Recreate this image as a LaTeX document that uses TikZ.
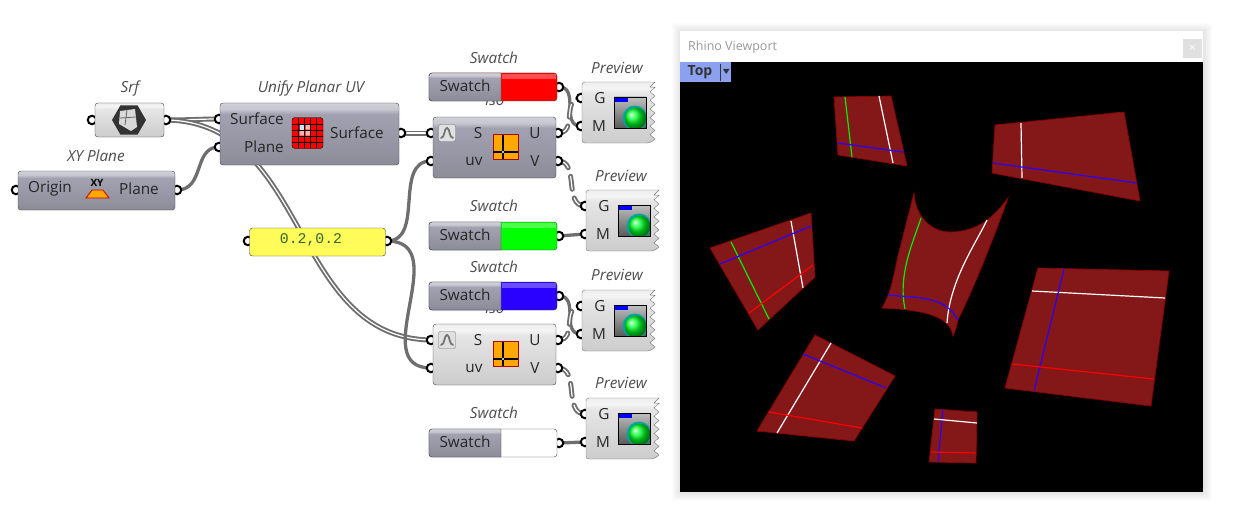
\documentclass[tikz,border=0pt]{standalone}
\usepackage{fontspec}
\setmainfont{Open Sans}
\newfontfamily\panelfont{Liberation Mono}
\usetikzlibrary{backgrounds,shapes.geometric}
\definecolor{ghline}{HTML}{3C3C3C}
\definecolor{ghwire}{HTML}{6E6E6E}
\definecolor{ghpanel}{HTML}{FFFB58}
\definecolor{ghorange}{HTML}{FFA800}
\definecolor{ghtab}{HTML}{8CA0F0}
\definecolor{srfred}{HTML}{841818}
\definecolor{srfedge}{HTML}{8E0000}
\definecolor{lineblue}{HTML}{2A00FF}
\definecolor{linegreen}{HTML}{00F000}
\pgfdeclareverticalshading{ghdark}{100bp}{rgb(0bp)=(.55,.55,.60); rgb(25bp)=(.55,.55,.60); rgb(60bp)=(.62,.62,.68); rgb(66bp)=(.63,.63,.69); rgb(70bp)=(.78,.78,.82); rgb(75bp)=(.82,.82,.85); rgb(100bp)=(.82,.82,.85)}
\pgfdeclareverticalshading{ghlight}{100bp}{rgb(0bp)=(.80,.80,.80); rgb(25bp)=(.80,.80,.80); rgb(66bp)=(.90,.90,.90); rgb(70bp)=(.96,.96,.96); rgb(75bp)=(.93,.93,.93); rgb(100bp)=(.93,.93,.93)}
\newcommand{\ghfont}{\fontsize{15.3}{15.3}\selectfont}

% Swatch : nom, y haut, couleur, y du port
\newcommand{\ghswatch}[3]{
  \node[port] (#1out) at (559,#2+14) {};
  \node[draw=ghline, fill=#3, rounded corners=3pt, minimum width=128pt, minimum height=28pt] (#1) at (493,#2+14) {};
  \fill[white, opacity=0.3] (502,#2+1) rectangle (556,#2+6);
  \draw[draw=ghline, shade, shading=ghdark] (501,#2) [rounded corners=3pt] -- (429,#2) -- (429,#2+28) [sharp corners] -- (501,#2+28) -- cycle;
  \node[intext] (#1txt) at (465,#2+13) {Swatch};
}
% Preview : nom, x gauche, y haut
\newcommand{\ghpreview}[3]{
  \begin{scope}[shift={(#2,#3)}]
    \node[port] (#1g) at (-1,16) {};
    \node[port] (#1m) at (-1,44) {};
    \draw[draw=ghline!70, shade, shading=ghlight, rounded corners=3pt] (69,0) -- (0,0) -- (0,61) -- (68,61) [sharp corners] -- (73,57)
      \foreach \k in {1,...,6} { -- ++(-5,-4.3) -- ++(5,-4.3) } -- (68,5) -- (73,0) -- cycle;
    \node[intext] (#1gt) at (18,16) {G};
    \node[intext] (#1mt) at (17,44) {M};
    \node[inner sep=0, minimum width=32pt, minimum height=31pt, draw=black, thick, shade, top color=black!25, bottom color=black!65] (#1icon) at (48,30.5) {};
    \begin{scope}
      \clip (32,15) rectangle (64,46);
      \fill[teal!70!cyan] (53,36) circle (12.5);
      \shade[ball color=green!85!cyan] (53.5,36.5) circle (11);
    \end{scope}
    \fill[blue] (32,15) rectangle (46,20);
    \draw[black, thick] (32,15) rectangle (64,46);
  \end{scope}
}
% Iso : nom, y haut, style
\newcommand{\ghiso}[3]{
  \node[port] (#1s) at (431,#2+16) {};
  \node[port] (#1uv) at (431,#2+44) {};
  \node[port] (#1u) at (558,#2+16) {};
  \node[port] (#1v) at (558,#2+44) {};
  \node[#3, minimum width=123pt, minimum height=61pt] (#1) at (494.5,#2+30.5) {};
  \node[draw=black!55, fill=black!12, rounded corners=2pt, minimum size=17pt, inner sep=0] (#1tog) at (447,#2+16) {};
  \draw[black!55, line width=1.8pt, line cap=round] (441,#2+21) .. controls (445,#2+21) and (444,#2+11) .. (447,#2+11) .. controls (450,#2+11) and (449,#2+21) .. (453,#2+21);
  \node[intext] (#1st) at (478,#2+16) {S};
  \node[intext] (#1uvt) at (474,#2+44) {uv};
  \node[intext] (#1ut) at (535,#2+16) {U};
  \node[intext] (#1vt) at (535,#2+44) {V};
  \node[draw=red!70!black, fill=ghorange, minimum size=25pt, inner sep=0] (#1icon) at (505.5,#2+30) {};
  \draw[black, line width=1.5pt] (503,#2+18) -- (503,#2+42) (493,#2+35) -- (518,#2+35);
  \fill[white] (503,#2+35) circle (1.2);
}

\begin{document}
\begin{tikzpicture}[x=1pt, y=-1pt]
  % On définit les styles
  \tikzstyle{port} = [circle, draw=black, fill=white, line width=2pt, minimum size=8.5pt, inner sep=0]
  \tikzstyle{intext} = [inner sep=0, text=black!85, font=\ghfont]
  \tikzstyle{caption} = [inner sep=0, text=black!70, font=\ghfont\itshape]
  \tikzstyle{darkbox} = [draw=ghline, shade, shading=ghdark, rounded corners=3pt, inner sep=0]
  \tikzstyle{lightbox} = [draw=ghline, shade, shading=ghlight, rounded corners=3pt, inner sep=0]
  \tikzstyle{wire} = [draw=ghwire, line width=3.3pt]
  \tikzstyle{listwire} = [draw=ghwire, line width=1.9pt, double=white, double distance=1.2pt]
  \tikzstyle{dashwire} = [listwire, line cap=round, dash pattern=on 13pt off 9pt]
  \tikzstyle{surface} = [draw=srfedge, fill=srfred, line width=0.7pt]
  \tikzstyle{isoline} = [line width=1.2pt]

  \useasboundingbox (0,0) rectangle (1235,511);

  % Srf
  \node[port] (srfin) at (92,120) {};
  \node[port] (srfout) at (166,120) {};
  \node[lightbox, minimum width=69pt, minimum height=34pt] (srf) at (129.5,120) {};
  \node[caption] (srfcap) at (130,88) {Srf};
  \node[fill=black!80, regular polygon, regular polygon sides=6, inner sep=0, minimum size=34pt] (srficon) at (129,120) {};
  \fill[white!85!black] (120,111) -- (135,109) -- (137,127) -- (131,131) -- (119,124) -- cycle;
  \draw[black!60, thick] (127,110) -- (125,125) (120,118) -- (136,117);

  % Unify Planar UV
  \node[port] (unifysrf) at (219,119) {};
  \node[port] (unifypln) at (219,147) {};
  \node[port] (unifyout) at (401,133) {};
  \node[darkbox, minimum width=179pt, minimum height=62pt] (unify) at (309.5,134) {};
  \node[caption] (unifycap) at (311,88) {Unify Planar UV};
  \node[intext, anchor=east] (unifysrft) at (284,119) {Surface};
  \node[intext, anchor=east] (unifyplnt) at (284,147) {Plane};
  \node[intext] (unifyoutt) at (357,133) {Surface};
  \node[draw=black, fill=red, rounded corners=3pt, minimum size=31pt, inner sep=0] (unifyicon) at (307.5,133) {};
  \draw[black, thick] (298.5,118) -- (298.5,148) (304.5,118) -- (304.5,148) (310.5,118) -- (310.5,148) (316.5,118) -- (316.5,148)
    (292,124) -- (323,124) (292,130) -- (323,130) (292,136) -- (323,136) (292,142) -- (323,142);
  \fill[white!75!cyan] (299.5,125) rectangle (304,129.5);
  \fill[red!30] (305.5,125) rectangle (310,129.5) (299.5,131) rectangle (304,135.5) (305.5,131) rectangle (310,135.5);

  % XY Plane
  \node[port] (xyin) at (16,190) {};
  \node[port] (xyout) at (177,190) {};
  \node[darkbox, minimum width=157pt, minimum height=39pt] (xy) at (96.5,190.5) {};
  \node[caption] (xycap) at (96,156) {XY Plane};
  \node[intext] (xyorigin) at (50,189) {Origin};
  \node[intext] (xyplane) at (139,189) {Plane};
  \node[inner sep=0, font=\fontsize{10}{10}\selectfont\bfseries] (xyicon) at (97,183) {XY};
  \draw[draw=red!80!black, fill=ghorange, line width=0.8pt] (86,198) -- (92,190) -- (103,190) -- (109,198) -- cycle;

  % Panel
  \node[port] (panelin) at (248,241) {};
  \node[port] (panelout) at (387,241) {};
  \node[draw=ghline, fill=ghpanel, rounded corners=3pt, minimum width=136pt, minimum height=28pt, inner sep=0] (panel) at (317.5,242) {};
  \node[inner sep=0, font=\panelfont\fontsize{14.8}{14.8}\selectfont, text=green!25!black!80] (paneltxt) at (311,240) {0.2,0.2};

  % Swatches
  \node[caption] (sw1cap) at (494,58) {Swatch};
  \node[caption] (iso1cap) at (495,100) {iso};
  \ghswatch{swred}{73}{red}
  \node[caption] (sw2cap) at (494,206) {Swatch};
  \ghswatch{swgreen}{222}{green}
  \node[caption] (sw3cap) at (494,267) {Swatch};
  \node[caption] (iso2cap) at (495,308) {iso};
  \ghswatch{swblue}{282}{lineblue}
  \node[caption] (sw4cap) at (494,413) {Swatch};
  \ghswatch{swwhite}{429}{white}

  % Iso
  \ghiso{isoa}{117}{darkbox}
  \ghiso{isob}{324}{lightbox}

  % Preview
  \node[caption] (pv1cap) at (617,68) {Preview};
  \ghpreview{pva}{582}{82}
  \node[caption] (pv2cap) at (621,176) {Preview};
  \ghpreview{pvb}{586}{190}
  \node[caption] (pv3cap) at (617,275) {Preview};
  \ghpreview{pvc}{582}{290}
  \node[caption] (pv4cap) at (621,383) {Preview};
  \ghpreview{pvd}{586}{398}

  % Wires
  \begin{scope}[on background layer]
    \draw[listwire] (srfout.center) .. controls (190,120) and (200,119) .. (unifysrf.center);
    \draw[listwire] (srfout.center) .. controls (310,122) and (290,338) .. (isobs.center);
    \draw[wire] (xyout.center) .. controls (205,190) and (193,147) .. (unifypln.center);
    \draw[listwire] (unifyout.center) -- (isoas.center);
    \draw[wire] (panelout.center) .. controls (425,241) and (393,161) .. (isoauv.center);
    \draw[wire] (panelout.center) .. controls (455,241) and (365,368) .. (isobuv.center);
    \draw[wire] (swredout.center) .. controls (580,87) and (560,126) .. (pvam.center);
    \draw[wire] (swgreenout.center) -- (pvbm.center);
    \draw[wire] (swblueout.center) .. controls (580,296) and (560,334) .. (pvcm.center);
    \draw[wire] (swwhiteout.center) -- (pvdm.center);
    \draw[dashwire] (isoau.center) .. controls (578,133) and (561,98) .. (pvag.center);
    \draw[dashwire] (isoav.center) .. controls (580,161) and (563,206) .. (pvbg.center);
    \draw[dashwire] (isobu.center) .. controls (578,340) and (561,306) .. (pvcg.center);
    \draw[dashwire] (isobv.center) .. controls (580,368) and (563,414) .. (pvdg.center);
  \end{scope}

  % Rhino Viewport
  \foreach \s in {1,...,9}
    \fill[black, opacity=0.01, rounded corners=3pt] (681-\s,32-\s) rectangle (1203+\s,492+\s);
  \node[fill=white, minimum width=523pt, minimum height=31pt, inner sep=0] (titlebar) at (941.5,46.5) {};
  \node[fill=black, minimum width=523pt, minimum height=430pt, inner sep=0] (viewport) at (941.5,277) {};
  \node[anchor=west, inner sep=0, text=black!40, font=\fontsize{12.5}{12.5}\selectfont] (titletxt) at (688,47) {Rhino Viewport};
  \node[fill=black!12, minimum size=19pt, inner sep=0, text=white, font=\fontsize{11}{11}\selectfont] (closebtn) at (1192.5,48.5) {×};
  \node[fill=ghtab, minimum width=51pt, minimum height=20pt, inner sep=0] (toptab) at (705.5,72) {};
  \node[inner sep=0, text=black!80, font=\fontsize{14}{14}\selectfont\bfseries] (toptxt) at (700,72) {Top};
  \draw[black!80] (720.5,64) -- (720.5,81);
  \fill[black!80] (723,69) -- (729.5,69) -- (726.2,74) -- cycle;

  % Surfaces
  \draw[surface] (834,97) -- (891,96) -- (907,166) -- (838,155) -- cycle;
  \draw[isoline, linegreen] (845,97) -- (852,157);
  \draw[isoline, white] (879,96) -- (893,163);
  \draw[isoline, lineblue] (838,143) -- (903,152);

  \draw[surface] (995,125) -- (1124,112) -- (1140,201) -- (992,173) -- cycle;
  \draw[isoline, white] (1021,123) -- (1022,178);
  \draw[isoline, lineblue] (993,163) -- (1137,183);

  \draw[surface] (811,213) -- (710,248) -- (758,330) -- (815,277) -- cycle;
  \draw[isoline, linegreen] (731,242) -- (769,319);
  \draw[isoline, white] (791,221) -- (803,288);
  \draw[isoline, lineblue] (720,264) -- (811,226);
  \draw[isoline, red] (749,313) -- (813,265);

  \draw[surface] (914,193) .. controls (915,215) and (930,232) .. (950,232) .. controls (975,232) and (992,220) .. (1008,198)
    .. controls (995,235) and (975,285) .. (958,320) .. controls (956,328) and (955,332) .. (953,336)
    .. controls (950,318) and (930,310) .. (882,308) .. controls (890,295) and (893,280) .. (897,260) -- cycle;
  \draw[isoline, linegreen] (921,218) .. controls (912,245) and (898,275) .. (905,309);
  \draw[isoline, white] (987,220) .. controls (975,245) and (950,280) .. (947,323);
  \draw[isoline, lineblue] (888,295) .. controls (915,298) and (945,295) .. (958,320);

  \draw[surface] (815,335) -- (895,376) -- (854,441) -- (757,431) -- cycle;
  \draw[isoline, white] (831,343) -- (777,433);
  \draw[isoline, lineblue] (803,354) -- (886,388);
  \draw[isoline, red] (769,412) -- (862,428);

  \draw[surface] (935,409) -- (977,412) -- (976,463) -- (929,462) -- cycle;
  \draw[isoline, lineblue] (943,410) -- (938,462);
  \draw[isoline, white] (934,419) -- (977,423);
  \draw[isoline, red] (931,452) -- (976,453);

  \draw[surface] (1038,268) -- (1169,271) -- (1151,406) -- (1005,388) -- cycle;
  \draw[isoline, white] (1032,291) -- (1165,298);
  \draw[isoline, lineblue] (1064,269) -- (1034,391);
  \draw[isoline, red] (1012,364) -- (1154,379);
\end{tikzpicture}
\end{document}
